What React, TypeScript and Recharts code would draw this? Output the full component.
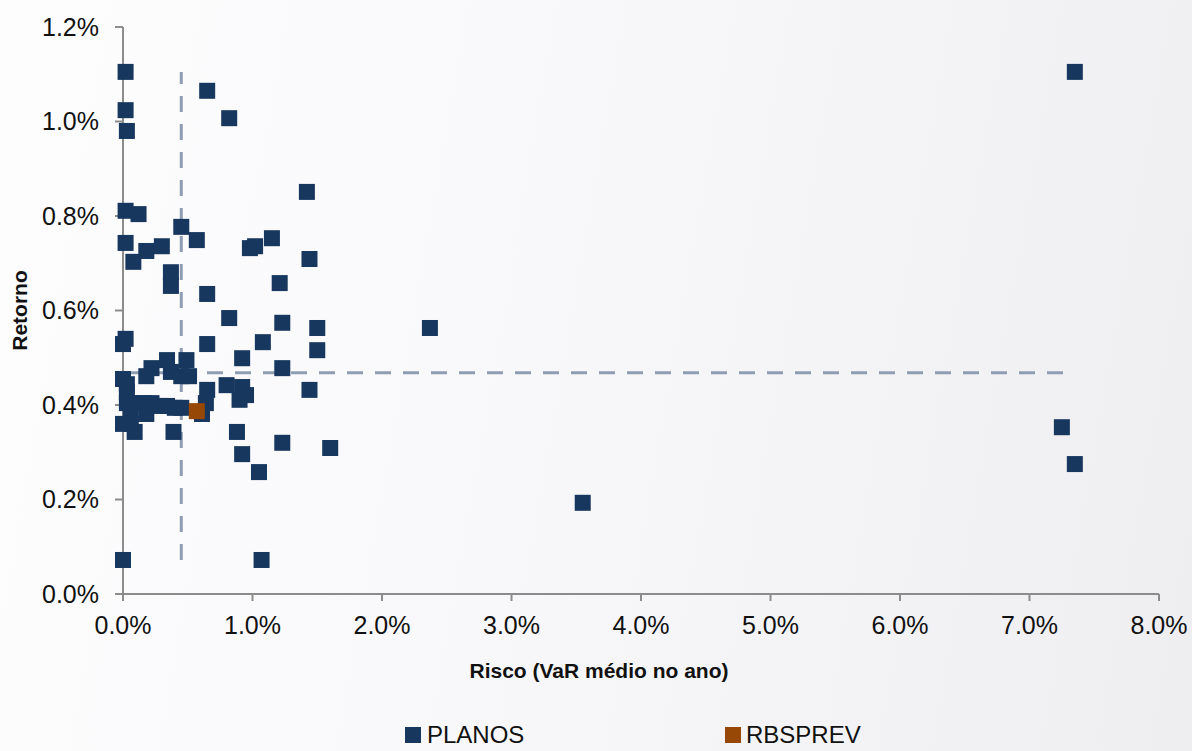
import { ScatterChart, Scatter, XAxis, YAxis, ReferenceLine } from 'recharts'

// Risco (VaR médio no ano, %) e Retorno (%) de cada plano
const planosRisco = [
  0.02, 0.65, 0.02, 0.82, 0.03, 1.42, 0.02, 0.12, 0.45, 0.02,
  0.18, 0.30, 0.57, 0.98, 1.02, 1.15, 0.08, 1.44, 0.37, 0.37,
  1.21, 0.65, 0.82, 1.23, 1.50, 0.02, 0.00, 0.65, 1.08, 1.50,
  0.92, 0.34, 0.49, 0.22, 1.23, 0.18, 0.37, 0.45, 0.51, 0.00,
  0.03, 0.03, 0.65, 0.80, 0.92, 0.95, 0.90, 1.44, 0.64, 0.61,
  0.03, 0.09, 0.16, 0.22, 0.28, 0.34, 0.40, 0.45, 0.18, 0.06,
  0.00, 0.06, 0.09, 0.39, 0.88, 1.23, 1.60, 0.92, 1.05, 0.00,
  1.07, 7.35, 7.25, 7.35, 3.55, 2.37
]
const planosRetorno = [
  1.105, 1.065, 1.024, 1.007, 0.980, 0.851, 0.811, 0.804, 0.777, 0.743,
  0.726, 0.736, 0.749, 0.732, 0.736, 0.753, 0.703, 0.709, 0.681, 0.652,
  0.658, 0.635, 0.584, 0.574, 0.563, 0.540, 0.529, 0.529, 0.533, 0.516,
  0.499, 0.495, 0.495, 0.478, 0.478, 0.461, 0.470, 0.461, 0.461, 0.455,
  0.444, 0.427, 0.432, 0.442, 0.438, 0.421, 0.411, 0.432, 0.404, 0.381,
  0.404, 0.404, 0.404, 0.404, 0.398, 0.398, 0.394, 0.394, 0.381, 0.381,
  0.360, 0.360, 0.343, 0.343, 0.343, 0.320, 0.309, 0.296, 0.258, 0.072,
  0.072, 1.105, 0.353, 0.275, 0.193, 0.563
]
const rbsprevRisco = [0.57]
const rbsprevRetorno = [0.387]

// linhas de média (tracejadas)
const mediaRisco = 0.45
const mediaRetorno = 0.468
const mediaRiscoRange = [0.072, 1.105]
const mediaRetornoRange = [0, 7.35]

const xTicks = [0, 1, 2, 3, 4, 5, 6, 7, 8]
const yTicks = [0, 0.2, 0.4, 0.6, 0.8, 1.0, 1.2]

const planos = planosRisco.map((x, i) => ({ x, y: planosRetorno[i] }))
const rbsprev = rbsprevRisco.map((x, i) => ({ x, y: rbsprevRetorno[i] }))

const NAVY = '#17375e'
const ORANGE = '#974806'
const DASH = '#8e9db2'
const FONT = '"Liberation Sans", Arial, sans-serif'

const square = (color: string) => (p: any) => (
  <rect x={p.cx - 8} y={p.cy - 8} width={16} height={16} fill={color} />
)

const pct = (v: number) => `${v.toFixed(1)}%`

export default function App() {
  return (
    <div
      style={{
        position: 'fixed',
        left: 0,
        top: 0,
        width: 1192,
        height: 751,
        overflow: 'hidden',
        fontFamily: FONT,
        background: 'linear-gradient(100deg, #fdfdfe 0%, #f8f8fa 45%, #eeeef1 100%)'
      }}
    >
      <ScatterChart width={1192} height={751} margin={{ top: 27, right: 33, left: 0, bottom: 117 }}>
        <XAxis
          type="number"
          dataKey="x"
          domain={[0, 8]}
          ticks={xTicks}
          tickFormatter={pct}
          height={40}
          stroke="#8c8c8c"
          strokeWidth={2}
          tickSize={7}
          tickMargin={15}
          tick={{ fill: '#111', fontSize: 25, fontFamily: FONT }}
        />
        <YAxis
          type="number"
          dataKey="y"
          domain={[0, 1.2]}
          ticks={yTicks}
          tickFormatter={pct}
          width={123}
          stroke="#8c8c8c"
          strokeWidth={2}
          tickSize={8}
          tickMargin={16}
          tick={{ fill: '#111', fontSize: 25, fontFamily: FONT }}
          label={{
            value: 'Retorno',
            angle: -90,
            position: 'insideLeft',
            offset: 20,
            style: { textAnchor: 'middle', fontWeight: 'bold', fontSize: 21, fill: '#111', fontFamily: FONT }
          }}
        />
        <ReferenceLine
          segment={[{ x: mediaRisco, y: mediaRiscoRange[0] }, { x: mediaRisco, y: mediaRiscoRange[1] }]}
          stroke={DASH}
          strokeWidth={3}
          strokeDasharray="16 12"
          ifOverflow="visible"
        />
        <ReferenceLine
          segment={[{ x: mediaRetornoRange[0], y: mediaRetorno }, { x: mediaRetornoRange[1], y: mediaRetorno }]}
          stroke={DASH}
          strokeWidth={3}
          strokeDasharray="16 12"
          ifOverflow="visible"
        />
        <Scatter name="PLANOS" data={planos} shape={square(NAVY)} isAnimationActive={false} />
        <Scatter name="RBSPREV" data={rbsprev} shape={square(ORANGE)} isAnimationActive={false} />
      </ScatterChart>

      <div
        style={{
          position: 'absolute',
          left: 0,
          width: 1198,
          top: 659,
          textAlign: 'center',
          fontWeight: 'bold',
          fontSize: 21,
          color: '#111'
        }}
      >
        Risco (VaR médio no ano)
      </div>

      <div style={{ position: 'absolute', left: 405, top: 727, width: 16, height: 16, background: NAVY }} />
      <div style={{ position: 'absolute', left: 427, top: 723, fontSize: 24, color: '#111', lineHeight: '24px' }}>
        PLANOS
      </div>
      <div style={{ position: 'absolute', left: 725, top: 727, width: 16, height: 16, background: ORANGE }} />
      <div style={{ position: 'absolute', left: 746, top: 723, fontSize: 24, color: '#111', lineHeight: '24px' }}>
        RBSPREV
      </div>
    </div>
  )
}
